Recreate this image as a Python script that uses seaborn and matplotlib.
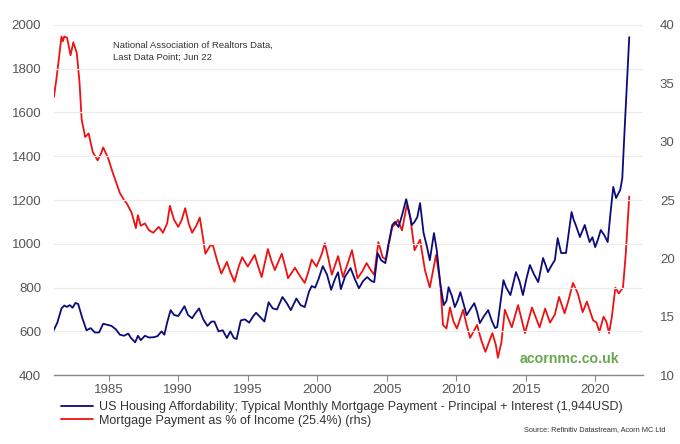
import matplotlib
matplotlib.use("Agg")
import matplotlib.pyplot as plt
import seaborn as sns
import pandas as pd
from matplotlib.lines import Line2D

# ---- data ----
blue_t = [1981.0, 1981.3, 1981.6, 1981.8, 1982.0, 1982.2, 1982.4, 1982.6, 1982.8, 1983.1,
          1983.4, 1983.7, 1984.0, 1984.3, 1984.6, 1984.9, 1985.2, 1985.5, 1985.8, 1986.1,
          1986.4, 1986.6, 1986.9, 1987.1, 1987.3, 1987.6, 1987.9, 1988.2, 1988.5, 1988.8,
          1989.0, 1989.2, 1989.45, 1989.7, 1990.0, 1990.2, 1990.45, 1990.7, 1991.0, 1991.2,
          1991.5, 1991.8, 1992.1, 1992.4, 1992.6, 1992.9, 1993.2, 1993.5, 1993.75, 1994.0,
          1994.2, 1994.5, 1994.8, 1995.1, 1995.4, 1995.6, 1995.9, 1996.2, 1996.5, 1996.8,
          1997.1, 1997.5, 1997.8, 1998.1, 1998.5, 1998.8, 1999.1, 1999.4, 1999.6, 1999.85,
          2000.1, 2000.4, 2000.7, 2001.0, 2001.3, 2001.5, 2001.7, 2002.0, 2002.4, 2002.7,
          2003.0, 2003.3, 2003.6, 2003.9, 2004.1, 2004.35, 2004.6, 2004.9, 2005.1, 2005.4,
          2005.6, 2005.85, 2006.1, 2006.4, 2006.6, 2006.8, 2007.0, 2007.2, 2007.4, 2007.65,
          2007.9, 2008.1, 2008.4, 2008.6, 2008.85, 2009.1, 2009.3, 2009.45, 2009.7, 2009.9,
          2010.1, 2010.3, 2010.55, 2010.75, 2011.0, 2011.3, 2011.5, 2011.7, 2012.0, 2012.3,
          2012.55, 2012.8, 2012.95, 2013.2, 2013.4, 2013.6, 2013.9, 2014.3, 2014.55, 2014.8,
          2015.05, 2015.3, 2015.6, 2015.9, 2016.25, 2016.45, 2016.6, 2016.85, 2017.1, 2017.3,
          2017.55, 2017.9, 2018.1, 2018.3, 2018.45, 2018.6, 2018.9, 2019.25, 2019.45, 2019.6,
          2019.8, 2020.0, 2020.2, 2020.4, 2020.65, 2020.9, 2021.1, 2021.3, 2021.5, 2021.8,
          2021.95, 2022.1, 2022.3, 2022.45]
blue_v = [600, 640, 705, 718, 712, 720, 708, 730, 725, 660,
          605, 615, 595, 595, 635, 630, 625, 610, 585, 580,
          590, 570, 550, 580, 560, 580, 572, 573, 578, 600,
          585, 640, 697, 675, 670, 690, 715, 675, 660, 680,
          705, 655, 625, 645, 645, 600, 605, 570, 600, 570,
          565, 650, 655, 640, 670, 685, 665, 645, 733, 705,
          700, 757, 730, 697, 750, 720, 711, 780, 807, 800,
          840, 898, 860, 790, 843, 870, 793, 850, 889, 840,
          797, 830, 848, 830, 825, 957, 925, 912, 990, 1086,
          1100, 1077, 1130, 1204, 1150, 1086, 1100, 1122, 1186, 1050,
          985, 925, 1049, 971, 820, 720, 740, 802, 760, 711,
          740, 779, 720, 674, 700, 729, 690, 638, 670, 697,
          650, 615, 620, 740, 834, 800, 766, 871, 830, 766,
          840, 903, 860, 825, 935, 900, 871, 900, 926, 1026,
          958, 958, 1050, 1145, 1110, 1086, 1031, 1086, 1040, 1008,
          1030, 985, 1020, 1063, 1040, 1008, 1140, 1260, 1209, 1246,
          1300, 1500, 1750, 1944]

red_t = [1981.05, 1981.25, 1981.45, 1981.6, 1981.7, 1981.8, 1982.0, 1982.25, 1982.45, 1982.7,
         1982.9, 1983.05, 1983.3, 1983.55, 1983.85, 1984.2, 1984.45, 1984.6, 1984.95, 1985.3,
         1985.8, 1986.1, 1986.3, 1986.65, 1986.95, 1987.1, 1987.3, 1987.6, 1987.9, 1988.2,
         1988.6, 1988.9, 1989.2, 1989.4, 1989.7, 1990.0, 1990.25, 1990.5, 1990.75, 1991.0,
         1991.3, 1991.55, 1991.75, 1991.95, 1992.3, 1992.5, 1992.8, 1993.1, 1993.5, 1993.75,
         1994.05, 1994.35, 1994.6, 1995.0, 1995.25, 1995.5, 1995.75, 1996.0, 1996.45, 1996.7,
         1996.95, 1997.45, 1997.7, 1997.9, 1998.4, 1998.7, 1999.1, 1999.35, 1999.6, 1999.95,
         2000.3, 2000.55, 2000.8, 2001.05, 2001.5, 2001.85, 2002.2, 2002.5, 2002.9, 2003.25,
         2003.55, 2003.85, 2004.1, 2004.4, 2004.7, 2004.95, 2005.2, 2005.4, 2005.6, 2005.8,
         2006.1, 2006.45, 2006.7, 2007.0, 2007.4, 2007.75, 2008.1, 2008.55, 2008.85, 2009.05,
         2009.3, 2009.55, 2009.8, 2010.05, 2010.5, 2010.75, 2011.0, 2011.5, 2011.8, 2012.1,
         2012.6, 2012.85, 2013.0, 2013.25, 2013.5, 2014.0, 2014.45, 2014.95, 2015.45, 2016.0,
         2016.4, 2016.75, 2017.1, 2017.4, 2017.8, 2018.1, 2018.4, 2018.75, 2019.1, 2019.4,
         2019.85, 2020.1, 2020.3, 2020.6, 2020.8, 2021.0, 2021.2, 2021.45, 2021.7, 2022.0,
         2022.2, 2022.45]
red_v = [33.8, 35.5, 37.5, 39.0, 38.6, 39.0, 38.9, 37.4, 38.5, 37.6,
         35.0, 31.9, 30.4, 30.7, 29.1, 28.4, 29.0, 29.5, 28.6, 27.3,
         25.6, 25.0, 24.7, 23.9, 22.6, 23.7, 22.8, 23.0, 22.4, 22.2,
         22.7, 22.2, 23.0, 24.5, 23.3, 22.7, 23.3, 24.3, 23.0, 22.2,
         22.8, 23.5, 22.0, 20.4, 21.1, 21.1, 19.8, 18.7, 19.7, 18.8,
         18.0, 19.3, 20.1, 19.3, 19.8, 20.3, 19.3, 18.4, 20.8, 19.8,
         19.0, 20.4, 19.3, 18.3, 19.2, 18.6, 17.9, 18.8, 19.9, 19.3,
         20.3, 21.3, 20.0, 18.6, 20.2, 18.4, 19.6, 20.7, 18.3, 18.9,
         19.6, 19.0, 18.6, 21.4, 20.1, 19.9, 21.5, 22.7, 22.9, 23.3,
         22.4, 24.6, 23.5, 20.7, 21.6, 19.0, 17.5, 20.3, 17.9, 14.3,
         14.0, 15.8, 14.6, 14.0, 15.6, 14.3, 13.2, 14.3, 13.0, 12.0,
         13.6, 12.6, 11.5, 12.8, 15.6, 14.1, 16.0, 13.6, 15.8, 14.1,
         15.7, 14.5, 15.2, 16.7, 15.3, 16.5, 17.9, 17.0, 15.4, 16.3,
         14.7, 14.5, 13.7, 15.0, 14.6, 13.6, 15.0, 17.5, 17.0, 17.5,
         20.4, 25.3]

left_ticks = [400, 600, 800, 1000, 1200, 1400, 1600, 1800, 2000]
right_ticks = [10, 15, 20, 25, 30, 35, 40]
year_ticks = [1985, 1990, 1995, 2000, 2005, 2010, 2015, 2020]

blue_label = "US Housing Affordability; Typical Monthly Mortgage Payment - Principal + Interest (1,944USD)"
red_label = "Mortgage Payment as % of Income (25.4%) (rhs)"
note_text = "National Association of Realtors Data,\nLast Data Point; Jun 22"
source_text = "Source: Refinitiv Datastream, Acorn MC Ltd"
logo_text = "acornmc.co.uk"

BLUE = "#0b0b7a"
RED = "#ee1111"
GRID = "#ececec"
TXT = "#555555"

sns.set_theme(style="white")
plt.rcParams['font.family'] = ['Liberation Sans', 'DejaVu Sans']

df_b = pd.DataFrame({"t": blue_t, "v": blue_v})
df_r = pd.DataFrame({"t": red_t, "v": red_v})

fig = plt.figure(figsize=(6.8, 4.44), dpi=100)
ax = fig.add_axes([0.079, 0.155, 0.867, 0.789])
ax2 = ax.twinx()

sns.lineplot(data=df_b, x="t", y="v", ax=ax, color=BLUE, linewidth=1.3)
sns.lineplot(data=df_r, x="t", y="v", ax=ax2, color=RED, linewidth=1.3)

# put blue on top of red
ax.set_zorder(ax2.get_zorder() + 1)
ax.patch.set_visible(False)

ax.set_xlim(1981.04, 2023.46)
ax.set_ylim(400, 2000)
ax2.set_ylim(10, 40)
ax.set_yticks(left_ticks)
ax2.set_yticks(right_ticks)
ax.set_xticks(year_ticks)
ax.set_xticklabels([str(y) for y in year_ticks])
ax.set_xlabel("")
ax.set_ylabel("")
ax2.set_ylabel("")

ax.grid(axis="y", color=GRID, linewidth=0.9)
ax.set_axisbelow(True)
ax2.grid(False)

for a in (ax, ax2):
    for s in ("top", "left", "right", "bottom"):
        a.spines[s].set_visible(False)
ax.spines["bottom"].set_visible(True)
ax.spines["bottom"].set_color("#888888")
ax.spines["bottom"].set_linewidth(1.0)

ax.tick_params(axis="x", which="both", bottom=True, length=4, width=0.8,
               color="#888888", labelsize=9.5, labelcolor=TXT, pad=2)
ax.tick_params(axis="y", left=False, labelsize=9.5, labelcolor=TXT, pad=3)
ax2.tick_params(axis="y", right=False, labelsize=9.5, labelcolor=TXT, pad=6)

ax.text(0.100, 0.955, note_text, transform=ax.transAxes, fontsize=6.8,
        color="#333333", va="top", ha="left", linespacing=1.5)

ax.text(0.960, 0.045, logo_text, transform=ax.transAxes, fontsize=10.2,
        color="#6aa84f", fontweight="semibold", ha="right", va="center")

handles = [Line2D([0], [0], color=BLUE, lw=1.3), Line2D([0], [0], color=RED, lw=1.3)]
fig.legend(handles, [blue_label, red_label], loc="upper left",
           bbox_to_anchor=(0.080, 0.111), frameon=False, fontsize=9.0,
           handlelength=2.6, handletextpad=0.5, labelspacing=0.15,
           borderpad=0.0, labelcolor="#333333")

fig.text(0.978, 0.032, source_text, fontsize=5.3, color="#333333",
         ha="right", va="center")

fig.savefig("out.png", dpi=100)
